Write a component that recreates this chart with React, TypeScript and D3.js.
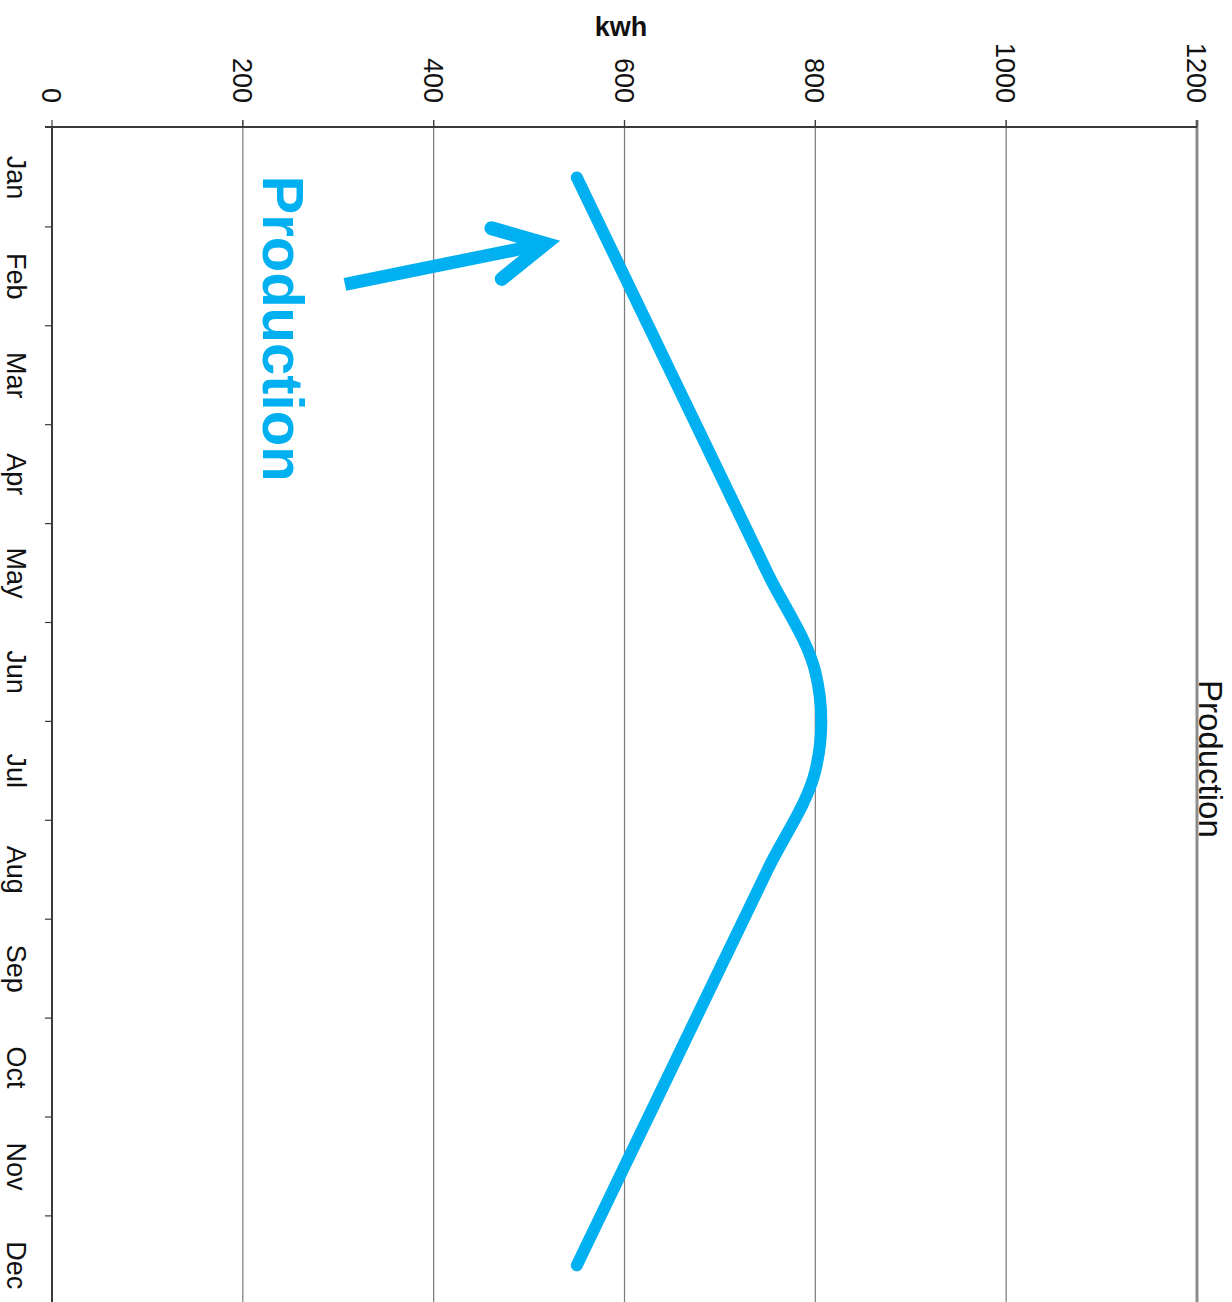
import React from 'react';
import * as d3 from 'd3';

// chart is drawn rotated a quarter turn clockwise: values run left→right, months top→bottom
const months = ['Jan', 'Feb', 'Mar', 'Apr', 'May', 'Jun', 'Jul', 'Aug', 'Sep', 'Oct', 'Nov', 'Dec'];
const production = [550, 600, 650, 700, 750, 800, 800, 750, 700, 650, 600, 550];
const valueTicks = [0, 200, 400, 600, 800, 1000, 1200];

// annotation anchors in data space (value, month position in bands)
const arrowTail = { value: 307, band: 1.58 };
const arrowTip = { value: 517, band: 1.17 };
const calloutText = { value: 221, band: 0.48 };

const W = 1232;
const H = 1302;
const BLUE = '#00b0f0';
const FONT = '"Liberation Sans", Arial, Helvetica, sans-serif';

const App: React.FC = () => {
  const x = d3.scaleLinear().domain([0, 1200]).range([52, 1197]);
  const y = d3.scaleBand<string>().domain(months).range([128, 128 + 12 * 98.9]).padding(0);
  const bw = y.bandwidth();
  const bandPos = (b: number) => 128 + b * bw;

  const line = d3
    .line<number>()
    .x((d) => x(d))
    .y((_, i) => (y(months[i]) ?? 0) + bw / 2)
    .curve(d3.curveCardinal);

  const top = 127;

  // arrowhead arms, derived from the shaft direction
  const tx = x(arrowTip.value);
  const ty = bandPos(arrowTip.band);
  const sx = x(arrowTail.value);
  const sy = bandPos(arrowTail.band);
  const ang = Math.atan2(ty - sy, tx - sx);
  const armLen = 56;
  const spread = 0.48;
  const a1 = [tx - armLen * Math.cos(ang - spread), ty - armLen * Math.sin(ang - spread)];
  const a2 = [tx - armLen * Math.cos(ang + spread), ty - armLen * Math.sin(ang + spread)];
  const shaftEnd = [tx - 10 * Math.cos(ang), ty - 10 * Math.sin(ang)];

  return (
    <div style={{ position: 'absolute', left: 0, top: 0 }}>
      <svg width={W} height={H} style={{ display: 'block', background: '#fff' }} fontFamily={FONT}>
        {/* grid lines */}
        {valueTicks.slice(1, -1).map((t) => (
          <line key={'g' + t} x1={x(t)} x2={x(t)} y1={top - 7} y2={H} stroke="#7a7a7a" strokeWidth={1.2} />
        ))}
        {/* right border at 1200 */}
        <line x1={x(1200)} x2={x(1200)} y1={top - 7} y2={H} stroke="#8c8c8c" strokeWidth={3} />

        {/* top value axis */}
        <line x1={45} x2={x(1200)} y1={top} y2={top} stroke="#3a3a3a" strokeWidth={2} />
        {valueTicks.map((t) => (
          <g key={'t' + t}>
            <line x1={x(t)} x2={x(t)} y1={top - 7} y2={top} stroke="#3a3a3a" strokeWidth={1.2} />
            <text
              transform={`translate(${x(t) - 10},103) rotate(90)`}
              textAnchor="end"
              fontSize={27}
              fill="#111"
            >
              {t}
            </text>
          </g>
        ))}
        <text x={621} y={36} textAnchor="middle" fontSize={27} fontWeight="bold" fill="#111">
          kwh
        </text>

        {/* left month axis */}
        <line x1={x(0)} x2={x(0)} y1={top} y2={H} stroke="#3a3a3a" strokeWidth={2} />
        {months.map((m, i) => (
          <g key={m}>
            {i > 0 && (
              <line x1={45} x2={x(0)} y1={y(m)} y2={y(m)} stroke="#3a3a3a" strokeWidth={1.2} />
            )}
            <text
              transform={`translate(7,${(y(m) ?? 0) + bw / 2}) rotate(90)`}
              textAnchor="middle"
              fontSize={27}
              fill="#111"
            >
              {m}
            </text>
          </g>
        ))}

        {/* series label on the right */}
        <text transform={`translate(1199,680) rotate(90)`} fontSize={33} fill="#111">
          Production
        </text>

        {/* production line */}
        <path
          d={line(production) ?? ''}
          fill="none"
          stroke={BLUE}
          strokeWidth={12}
          strokeLinecap="round"
          strokeLinejoin="round"
        />

        {/* callout */}
        <text
          transform={`translate(${x(calloutText.value)},${bandPos(calloutText.band)}) rotate(90)`}
          fontSize={58}
          fontWeight="bold"
          fill={BLUE}
        >
          Production
        </text>
        <line x1={sx} y1={sy} x2={shaftEnd[0]} y2={shaftEnd[1]} stroke={BLUE} strokeWidth={13} />
        <path
          d={`M${a1[0]},${a1[1]}L${tx},${ty}L${a2[0]},${a2[1]}`}
          fill="none"
          stroke={BLUE}
          strokeWidth={14}
          strokeLinecap="round"
          strokeLinejoin="miter"
          strokeMiterlimit={10}
        />
      </svg>
    </div>
  );
};

export default App;
